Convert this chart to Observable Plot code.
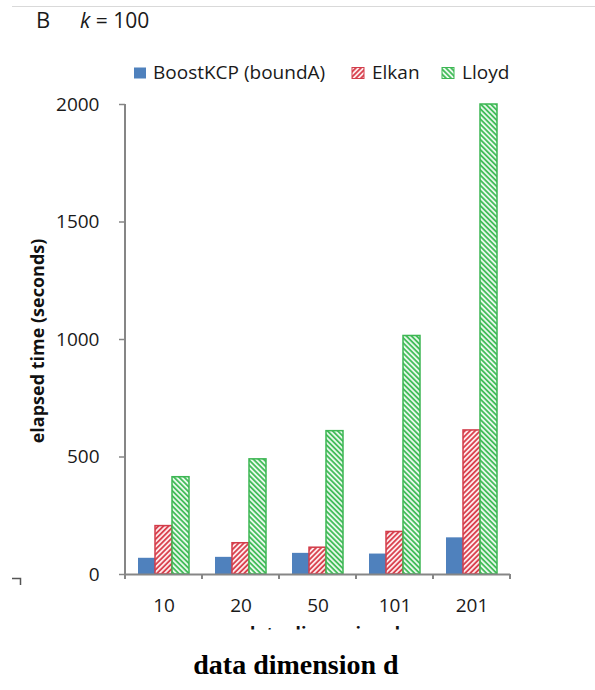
<!DOCTYPE html>
<html>
<head>
<meta charset="utf-8">
<script src="https://cdn.jsdelivr.net/npm/d3@7"></script>
<script src="https://cdn.jsdelivr.net/npm/@observablehq/plot@0.6"></script>
<style>
html, body { margin: 0; padding: 0; background: #fff; }
#wrap { position: relative; width: 595px; height: 690px; overflow: hidden; font-family: "Open Sans", sans-serif; }
#chart svg { position: absolute; left: 0; top: 0; }
#overlay { position: absolute; left: 0; top: 0; z-index: 2; pointer-events: none; }
</style>
</head>
<body>
<div id="wrap">
  <div id="chart"></div>
  <svg id="overlay" width="595" height="690" xmlns="http://www.w3.org/2000/svg" font-family="Open Sans, sans-serif">
    <defs>
      <pattern id="hatchRed" patternUnits="userSpaceOnUse" width="3.6" height="3.6" patternTransform="rotate(45)">
        <rect width="3.6" height="3.6" fill="#fde8ea"></rect>
        <rect width="1.8" height="3.6" fill="#d9424f"></rect>
      </pattern>
      <pattern id="hatchGreen" patternUnits="userSpaceOnUse" width="3.6" height="3.6" patternTransform="rotate(-45)">
        <rect width="3.6" height="3.6" fill="#e8f8eb"></rect>
        <rect width="1.8" height="3.6" fill="#45bd5c"></rect>
      </pattern>
      <clipPath id="fragClip"><rect x="180" y="625.5" width="260" height="4"></rect></clipPath>
    </defs>
    <line x1="12" y1="6.5" x2="595" y2="6.5" stroke="#d9d9d9" stroke-width="1"></line>
    <text x="36" y="27.5" font-size="22" fill="#1a1a1a">B</text>
    <text x="80" y="28" font-size="21" fill="#1a1a1a"><tspan font-style="italic">k</tspan> = 100</text>
    <g id="legend"></g>
    <text transform="translate(44,341) rotate(-90)" text-anchor="middle" font-weight="bold" font-size="18" fill="#111">elapsed time (seconds)</text>
    <g clip-path="url(#fragClip)">
      <text x="322" y="640" text-anchor="middle" font-weight="bold" font-size="18" fill="#111">data dimension d</text>
    </g>
    <path d="M12,578.5 H20.5 V585" fill="none" stroke="#555" stroke-width="1.5"></path>
    <text x="296" y="674" text-anchor="middle" font-family="Liberation Serif, Times New Roman, serif" font-weight="bold" font-size="28" fill="#000">data dimension d</text>
  </svg>
</div>
<script>
// ---- data ----
const dims = ["10", "20", "50", "101", "201"];
const seriesNames = ["BoostKCP (boundA)", "Elkan", "Lloyd"];
const boostKCP = [69, 73, 90, 87, 156];
const elkan = [206, 133, 114, 181, 613];
const lloyd = [414, 490, 610, 1015, 2000];
const yTicks = [0, 500, 1000, 1500, 2000];

const seriesValues = [boostKCP, elkan, lloyd];
const rows = [];
dims.forEach((d, i) => seriesNames.forEach((s, j) => rows.push({dim: d, series: s, value: seriesValues[j][i]})));

const fills = ["#4F81BD", "url(#hatchRed)", "url(#hatchGreen)"];
const strokes = ["none", "#d23d4a", "#3db653"];

const barMarks = seriesNames.map((s, j) =>
  Plot.barY(rows.filter(r => r.series === s), {
    fx: "dim", x: "series", y: "value",
    fill: fills[j], stroke: strokes[j], strokeWidth: 1.5
  })
);

const plot = Plot.plot({
  width: 595,
  height: 690,
  marginLeft: 124,
  marginRight: 84,
  marginTop: 104,
  marginBottom: 116,
  style: {fontFamily: "Open Sans, sans-serif", fontSize: "19px", color: "#1a1a1a", background: "transparent"},
  fx: {domain: dims, padding: 0, label: null},
  x: {domain: seriesNames, paddingInner: 0, paddingOuter: 0.75, axis: null},
  y: {domain: [0, 2000], label: null},
  marks: [
    ...barMarks,
    Plot.ruleY([0], {stroke: "#868686", strokeWidth: 2}),
    Plot.axisY({ticks: yTicks, tickSize: 6, tickPadding: 20, stroke: "#868686", strokeWidth: 1.5, tickFormat: d => String(d), label: null}),
    Plot.axisFx({anchor: "bottom", tickSize: 0, tickPadding: 24, label: null})
  ]
});
document.getElementById("chart").appendChild(plot);

// axis line and category boundary ticks, derived from the plot's scales
const fxS = plot.scale("fx");
const yS = plot.scale("y");
const y0 = yS.apply(0);
const yTop = yS.apply(yS.domain[1]);
const edges = dims.map(d => fxS.apply(d));
edges.push(fxS.apply(dims[dims.length - 1]) + fxS.bandwidth);
const g = d3.select(plot).append("g").attr("stroke", "#868686").attr("stroke-width", 2);
g.append("line").attr("x1", edges[0]).attr("x2", edges[0]).attr("y1", yTop).attr("y2", y0);
edges.forEach(x => g.append("line").attr("x1", x).attr("x2", x).attr("y1", y0).attr("y2", y0 + 5));

// legend
const legendX = [134, 352, 442];
const legend = d3.select("#legend");
seriesNames.forEach((s, j) => {
  legend.append("rect").attr("x", legendX[j]).attr("y", 67.5).attr("width", 12).attr("height", 11)
    .attr("fill", fills[j]).attr("stroke", strokes[j]).attr("stroke-width", 1);
  legend.append("text").attr("x", legendX[j] + (j === 0 ? 19 : 20)).attr("y", 79)
    .attr("font-size", 19).attr("fill", "#1a1a1a").text(s);
});
</script>
</body>
</html>
